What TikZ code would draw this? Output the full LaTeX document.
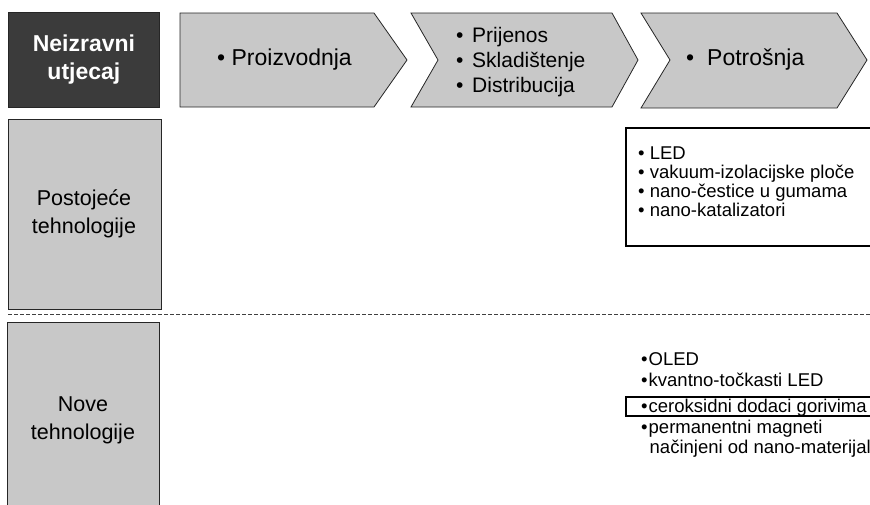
\documentclass[tikz,border=0pt]{standalone}
\usepackage{fontspec}
\setmainfont{Liberation Sans}
\usetikzlibrary{positioning}
\definecolor{chevgray}{HTML}{C8C8C8}
\definecolor{darkbox}{HTML}{3B3B3B}

\begin{document}
\begin{tikzpicture}[x=1pt,y=-1pt,
  chev/.style={draw=black!85, fill=chevgray, line width=0.8pt},
  rowbox/.style={draw=black!85, fill=chevgray, line width=0.8pt},
  listbox/.style={draw=black, line width=2.2pt},
  bigtext/.style={font=\fontsize{23}{28}\selectfont, inner sep=0pt},
  midtext/.style={font=\fontsize{21}{25}\selectfont, inner sep=0pt, align=left},
  rowtext/.style={font=\fontsize{21.5}{28}\selectfont, inner sep=0pt, align=center},
  listtext/.style={font=\fontsize{18.5}{19}\selectfont, inner sep=0pt, align=left}]
\useasboundingbox (0,0) rectangle (870,504);
\clip (0,0) rectangle (870,504);

% header row
\node [draw=black!85, fill=darkbox, line width=0.8pt, minimum width=151pt, minimum height=95pt,
  anchor=north west, text=white, align=center, font=\bfseries\fontsize{23}{28}\selectfont] (impact) at (8,12) {Neizravni\\utjecaj};

\draw [chev] (180,13) -- (374,13) -- (407,60) -- (374,107) -- (180,107) -- cycle;
\draw [chev] (411,13) -- (612,13) -- (638,60) -- (612,107) -- (411,107) -- (438,60) -- cycle;
\draw [chev] (641,13) -- (837,13) -- (867,60) -- (837,108) -- (641,108) -- (670,60) -- cycle;

\node [bigtext, anchor=west] (prod) at (217,60) {• Proizvodnja};
\node [midtext, anchor=west] (trans) at (456,62)
  {\makebox[16pt][l]{•}Prijenos\\\makebox[16pt][l]{•}Skladištenje\\\makebox[16pt][l]{•}Distribucija};
\node [bigtext, anchor=west] (cons) at (686,60) {\makebox[21pt][l]{•}Potrošnja};

% rows
\draw [rowbox] (8,119) rectangle (161,309);
\node [rowtext] (exist) at (84,214) {Postojeće\\tehnologije};
\draw [black!75, dashed, dash pattern=on 4pt off 2pt, line width=0.8pt] (8,314) -- (870,314);
\draw [rowbox] (7,322) rectangle (159,520);
\node [rowtext] (new) at (83,420) {Nove\\tehnologije};

% existing technologies, consumption
\draw [listbox] (626,128) rectangle (885,246);
\node [listtext, anchor=west] (exlist) at (638,182)
  {• LED\\• vakuum-izolacijske ploče\\• nano-čestice u gumama\\• nano-katalizatori};

% new technologies, consumption
\draw [listbox] (626,397) rectangle (885,416);
\node [listtext, anchor=base west] (oled) at (641,365) {•\hspace{1pt}OLED};
\node [listtext, anchor=base west] (qled) at (641,386) {•\hspace{1pt}kvantno-točkasti LED};
\node [listtext, anchor=base west] (ceria) at (641,412) {•\hspace{1pt}ceroksidni dodaci gorivima};
\node [listtext, anchor=base west] (magnet) at (641,433) {•\hspace{1pt}permanentni magneti};
\node [listtext, anchor=base west] (magnet2) at (649.5,453) {načinjeni od nano-materijal};
\end{tikzpicture}
\end{document}
